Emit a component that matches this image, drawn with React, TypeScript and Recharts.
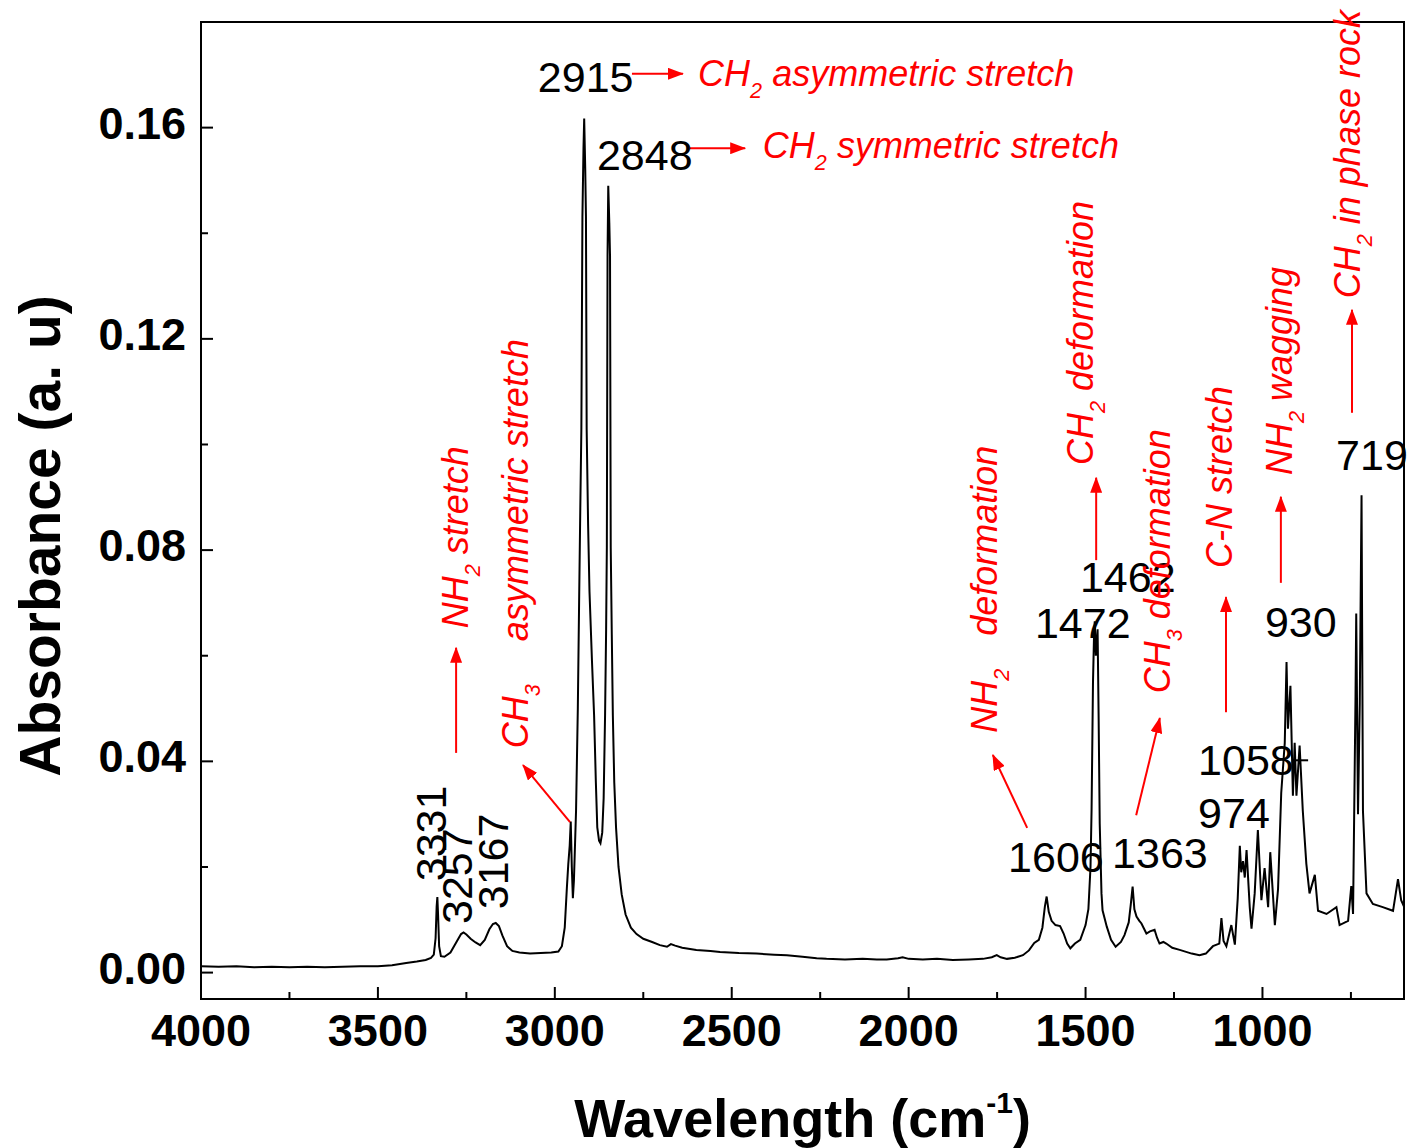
import React from 'react'
import { LineChart, Line, XAxis, YAxis, ReferenceArea, ReferenceLine, ReferenceDot, Label } from 'recharts'

const FONT = '"Liberation Sans", Arial, sans-serif'
const RED = '#ff0000'

// spectrum (cm-1, a.u.)
const wavenumber = [
  4000, 3950, 3900, 3850, 3800, 3750, 3700, 3650, 3600, 3550, 3500, 3460, 3420, 3390, 3365, 3350,
  3342, 3337, 3334, 3332, 3330, 3327, 3322, 3312, 3295, 3278, 3265, 3258, 3250, 3238, 3224, 3211,
  3198, 3185, 3175, 3167, 3158, 3148, 3135, 3120, 3100, 3070, 3040, 3010, 2990, 2980, 2972, 2966,
  2962, 2958, 2955, 2952, 2949, 2946, 2940, 2935, 2931, 2928, 2925, 2922, 2919, 2917, 2914, 2912,
  2910, 2906, 2902, 2895, 2889, 2884, 2880, 2875, 2871, 2866, 2862, 2858, 2855, 2853, 2851, 2849,
  2846, 2844, 2842, 2839, 2836, 2832, 2827, 2820, 2811, 2800, 2785, 2769, 2750, 2725, 2703, 2683,
  2672, 2660, 2640, 2600, 2560, 2533, 2480, 2430, 2380, 2344, 2300, 2260, 2232, 2180, 2130, 2090,
  2062, 2030, 2017, 2000, 1960, 1920, 1875, 1830, 1790, 1765, 1751, 1740, 1722, 1700, 1677, 1660,
  1645, 1632, 1622, 1615, 1610, 1604, 1596, 1585, 1572, 1562, 1552, 1543, 1530, 1515, 1500, 1492,
  1486, 1483, 1479, 1476, 1474, 1471, 1468, 1466, 1463, 1460, 1455, 1452, 1440, 1428, 1415, 1400,
  1390, 1378, 1372, 1367, 1362, 1356, 1348, 1342, 1334, 1328, 1318, 1305, 1298, 1291, 1280, 1272,
  1255, 1234, 1200, 1178, 1160, 1140, 1122, 1116, 1110, 1102, 1088, 1078, 1070, 1064, 1060, 1055,
  1050, 1045, 1036, 1031, 1022, 1013, 1003, 994, 984, 978, 965, 956, 947, 937, 932, 928,
  921, 914, 909, 904, 895, 886, 876, 867, 852, 843, 819, 791, 782, 758, 749, 744,
  737, 735, 730, 725, 720, 716, 706, 688, 660, 631, 617, 608, 600,
]
const absorbance = [
  0.0012, 0.0011, 0.0012, 0.0010, 0.0011, 0.0010, 0.0011, 0.0010, 0.0011, 0.0012, 0.0012, 0.0014, 0.0018, 0.0021, 0.0024, 0.0028,
  0.0034, 0.0065, 0.0125, 0.0143, 0.0110, 0.0050, 0.0031, 0.0030, 0.0038, 0.0058, 0.0073, 0.0076, 0.0072, 0.0064, 0.0057, 0.0052,
  0.0062, 0.0082, 0.0092, 0.0094, 0.0088, 0.0070, 0.0050, 0.0041, 0.0038, 0.0036, 0.0037, 0.0038, 0.0040, 0.0050, 0.0085, 0.0160,
  0.0205, 0.0240, 0.0286, 0.0200, 0.0141, 0.0175, 0.0307, 0.0500, 0.0721, 0.0880, 0.1029, 0.1431, 0.1560, 0.1617, 0.1520, 0.1431,
  0.1029, 0.0850, 0.0721, 0.0590, 0.0487, 0.0360, 0.0275, 0.0250, 0.0245, 0.0265, 0.0330, 0.0487, 0.0650, 0.0805, 0.1357, 0.1490,
  0.1420, 0.1357, 0.0805, 0.0640, 0.0487, 0.0360, 0.0275, 0.0200, 0.0148, 0.0110, 0.0085, 0.0073, 0.0064, 0.0058, 0.0052, 0.0049,
  0.0054, 0.0051, 0.0047, 0.0043, 0.0041, 0.0039, 0.0037, 0.0036, 0.0034, 0.0033, 0.0030, 0.0027, 0.0026, 0.0025, 0.0026, 0.0025,
  0.0025, 0.0027, 0.0029, 0.0026, 0.0025, 0.0026, 0.0024, 0.0025, 0.0026, 0.0029, 0.0033, 0.0029, 0.0026, 0.0028, 0.0033, 0.0042,
  0.0056, 0.0062, 0.0085, 0.0125, 0.0144, 0.0115, 0.0098, 0.0090, 0.0088, 0.0074, 0.0055, 0.0046, 0.0055, 0.0062, 0.0090, 0.0120,
  0.0200, 0.0308, 0.0550, 0.0640, 0.0665, 0.0600, 0.0630, 0.0650, 0.0480, 0.0283, 0.0150, 0.0118, 0.0087, 0.0062, 0.0049, 0.0058,
  0.0071, 0.0095, 0.0130, 0.0163, 0.0120, 0.0106, 0.0098, 0.0093, 0.0082, 0.0074, 0.0078, 0.0081, 0.0066, 0.0055, 0.0058, 0.0055,
  0.0047, 0.0043, 0.0036, 0.0033, 0.0036, 0.0050, 0.0055, 0.0103, 0.0060, 0.0050, 0.0090, 0.0053, 0.0140, 0.0240, 0.0190, 0.0211,
  0.0180, 0.0232, 0.0124, 0.0083, 0.0150, 0.0270, 0.0137, 0.0198, 0.0124, 0.0228, 0.0090, 0.0158, 0.0340, 0.0435, 0.0588, 0.0462,
  0.0543, 0.0335, 0.0435, 0.0335, 0.0430, 0.0306, 0.0206, 0.0150, 0.0185, 0.0117, 0.0111, 0.0124, 0.0090, 0.0098, 0.0164, 0.0111,
  0.0524, 0.0680, 0.0300, 0.0510, 0.0904, 0.0306, 0.0150, 0.0130, 0.0124, 0.0117, 0.0177, 0.0137, 0.0125,
]

const xTicks = [4000, 3750, 3500, 3250, 3000, 2750, 2500, 2250, 2000, 1750, 1500, 1250, 1000, 750]
const yTicks = [0, 0.02, 0.04, 0.06, 0.08, 0.1, 0.12, 0.14, 0.16]

// black peak numbers, anchored in data units
const peakLabels = [
  { t: '2915', x: 3048, y: 0.1667 },
  { t: '2848', x: 2881, y: 0.152 },
  { t: '1462', x: 1516, y: 0.0721 },
  { t: '1472', x: 1643, y: 0.0634 },
  { t: '930', x: 993, y: 0.0635 },
  { t: '719', x: 792, y: 0.0952 },
  { t: '1058', x: 1182, y: 0.0374 },
  { t: '974', x: 1182, y: 0.0274 },
  { t: '1606', x: 1719, y: 0.019 },
  { t: '1363', x: 1425, y: 0.0198 },
  { t: '3331', x: 3308, y: 0.0173, rot: true },
  { t: '3257', x: 3234, y: 0.0092, rot: true },
  { t: '3167', x: 3132, y: 0.012, rot: true },
]

type Part = { t: string; sub?: boolean; gap?: number }

// red band assignments
const notes: { parts: Part[]; x: number; y: number; rot?: boolean }[] = [
  { parts: [{ t: 'CH' }, { t: '2', sub: true }, { t: ' asymmetric stretch' }], x: 2595, y: 0.1679 },
  { parts: [{ t: 'CH' }, { t: '2', sub: true }, { t: ' symmetric stretch' }], x: 2412, y: 0.1542 },
  { parts: [{ t: 'NH' }, { t: '2', sub: true }, { t: ' stretch' }], x: 3245, y: 0.0652, rot: true },
  { parts: [{ t: 'CH' }, { t: '3', sub: true }, { t: 'asymmetric stretch', gap: 43 }], x: 3076, y: 0.0425, rot: true },
  { parts: [{ t: 'NH' }, { t: '2', sub: true }, { t: 'deformation', gap: 33 }], x: 1750, y: 0.0454, rot: true },
  { parts: [{ t: 'CH' }, { t: '2', sub: true }, { t: ' deformation' }], x: 1479, y: 0.0961, rot: true },
  { parts: [{ t: 'CH' }, { t: '3', sub: true }, { t: ' deformation' }], x: 1261, y: 0.0529, rot: true },
  { parts: [{ t: 'C-N stretch' }], x: 1086, y: 0.0766, rot: true },
  { parts: [{ t: 'NH' }, { t: '2', sub: true }, { t: ' wagging' }], x: 916, y: 0.0942, rot: true },
  { parts: [{ t: 'CH' }, { t: '2', sub: true }, { t: ' in phase rock' }], x: 724, y: 0.1277, rot: true },
]

const arrows = [
  { from: [2782, 0.1702], to: [2638, 0.1702] },
  { from: [2618, 0.1561], to: [2462, 0.1561] },
  { from: [3279, 0.0416], to: [3279, 0.0615] },
  { from: [2957, 0.0285], to: [3090, 0.0393] },
  { from: [1665, 0.0274], to: [1762, 0.0412] },
  { from: [1470, 0.0781], to: [1470, 0.0937] },
  { from: [1357, 0.0298], to: [1290, 0.0482] },
  { from: [1103, 0.0493], to: [1103, 0.0711] },
  { from: [948, 0.0738], to: [948, 0.0901] },
  { from: [747, 0.106], to: [747, 0.1255] },
]

const data = wavenumber.map((w, i) => ({ w, a: absorbance[i] }))

const XTick = (props: any) => {
  const { x, y, payload } = props
  const major = payload.value % 500 === 0
  return (
    <g>
      <line x1={x} y1={y} x2={x} y2={y - (major ? 12 : 7)} stroke="#000" strokeWidth={2} />
      {major && (
        <text x={x} y={y + 47} textAnchor="middle" fontFamily={FONT} fontWeight="bold" fontSize={45} fill="#000">
          {payload.value}
        </text>
      )}
    </g>
  )
}

const YTick = (props: any) => {
  const { x, y, payload } = props
  const major = Math.round(payload.value * 100) % 4 === 0
  return (
    <g>
      <line x1={x} y1={y} x2={x + (major ? 12 : 7)} y2={y} stroke="#000" strokeWidth={2} />
      {major && (
        <text x={x - 15} y={y + 11} textAnchor="end" fontFamily={FONT} fontWeight="bold" fontSize={45} fill="#000">
          {payload.value.toFixed(2)}
        </text>
      )}
    </g>
  )
}

function rich(parts: Part[], size: number) {
  return parts.map((p, i) => {
    const prevSub = i > 0 && parts[i - 1].sub
    const dy = p.sub ? size * 0.33 : prevSub ? -size * 0.33 : undefined
    return (
      <tspan key={i} fontSize={p.sub ? size * 0.6 : size} dy={dy} dx={p.gap}>
        {p.t}
      </tspan>
    )
  })
}

export default function App() {
  return (
    <div style={{ position: 'absolute', left: 0, top: 0, width: 1412, height: 1148, background: '#fff' }}>
      <svg width={0} height={0} style={{ position: 'absolute' }}>
        <defs>
          <marker id="redHead" markerUnits="userSpaceOnUse" markerWidth={16} markerHeight={12} refX={15} refY={6} orient="auto">
            <path d="M0,0 L16,6 L0,12 z" fill={RED} />
          </marker>
        </defs>
      </svg>
      <LineChart width={1412} height={1148} data={data} margin={{ top: 22, right: 8, bottom: 0, left: 0 }}>
        <XAxis
          dataKey="w"
          type="number"
          domain={[600, 4000]}
          reversed
          allowDataOverflow
          ticks={xTicks}
          interval={0}
          height={149}
          axisLine={false}
          tickLine={false}
          tickSize={0}
          tickMargin={0}
          tick={XTick}
        >
          <Label
            content={(p: any) => {
              const vb = p.viewBox
              return (
                <text x={vb.x + vb.width / 2} y={vb.y + 138} textAnchor="middle" fontFamily={FONT} fontWeight="bold" fontSize={54} fill="#000">
                  Wavelength (cm
                  <tspan fontSize={30} dy={-24}>-1</tspan>
                  <tspan dy={24}>)</tspan>
                </text>
              )
            }}
          />
        </XAxis>
        <YAxis
          type="number"
          domain={[-0.005, 0.18]}
          allowDataOverflow
          ticks={yTicks}
          interval={0}
          width={201}
          axisLine={false}
          tickLine={false}
          tickSize={0}
          tickMargin={0}
          tick={YTick}
        >
          <Label
            content={() => (
              <text x={60} y={536} transform="rotate(-90 60 536)" textAnchor="middle" fontFamily={FONT} fontWeight="bold" fontSize={57} fill="#000">
                Absorbance (a. u)
              </text>
            )}
          />
        </YAxis>
        <ReferenceArea x1={4000} x2={600} y1={-0.005} y2={0.18} fill="none" stroke="#000" strokeWidth={2} ifOverflow="visible" />
        <Line type="linear" dataKey="a" stroke="#000" strokeWidth={2} dot={false} isAnimationActive={false} />
        {arrows.map((a, i) => (
          <ReferenceLine
            key={'ar' + i}
            segment={[{ x: a.from[0], y: a.from[1] }, { x: a.to[0], y: a.to[1] }]}
            ifOverflow="visible"
            shape={(p: any) => (
              <line x1={p.x1} y1={p.y1} x2={p.x2} y2={p.y2} stroke={RED} strokeWidth={2} markerEnd="url(#redHead)" />
            )}
          />
        ))}
        <ReferenceLine segment={[{ x: 914, y: 0.0402 }, { x: 871, y: 0.0402 }]} stroke="#000" strokeWidth={2} ifOverflow="visible" />
        {peakLabels.map((l, i) => (
          <ReferenceDot
            key={'pk' + i}
            x={l.x}
            y={l.y}
            r={0}
            ifOverflow="visible"
            shape={(p: any) => (
              <text
                x={p.cx}
                y={p.cy}
                transform={l.rot ? `rotate(-90 ${p.cx} ${p.cy})` : undefined}
                fontFamily={FONT}
                fontSize={43}
                fill="#000"
              >
                {l.t}
              </text>
            )}
          />
        ))}
        {notes.map((n, i) => (
          <ReferenceDot
            key={'nt' + i}
            x={n.x}
            y={n.y}
            r={0}
            ifOverflow="visible"
            shape={(p: any) => (
              <text
                x={p.cx}
                y={p.cy}
                transform={n.rot ? `rotate(-90 ${p.cx} ${p.cy})` : undefined}
                fontFamily={FONT}
                fontStyle="italic"
                fontSize={36}
                fill={RED}
              >
                {rich(n.parts, 36)}
              </text>
            )}
          />
        ))}
      </LineChart>
    </div>
  )
}
